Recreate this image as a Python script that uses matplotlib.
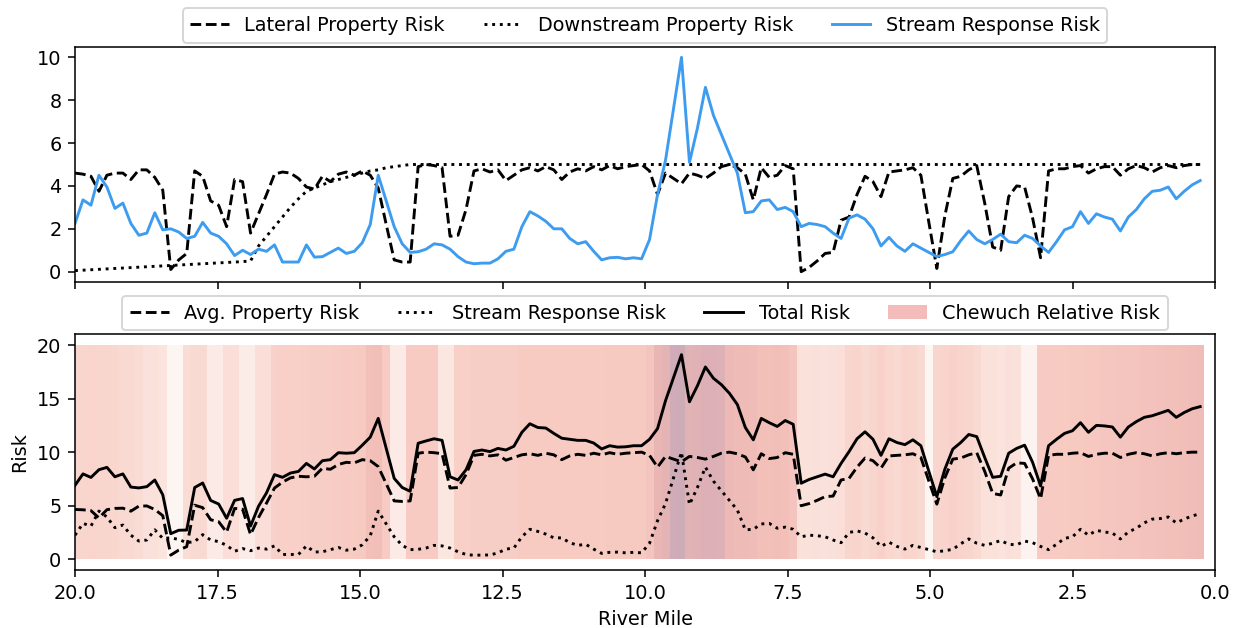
import matplotlib
matplotlib.use("Agg")
import matplotlib.pyplot as plt
import numpy as np
from matplotlib.colors import LinearSegmentedColormap
from matplotlib.patches import Patch
from matplotlib.lines import Line2D

# ---------------- data ----------------
river_mile = [
    20.00, 19.86, 19.72, 19.58, 19.44, 19.30, 19.16, 19.02, 18.88, 18.74,
    18.60, 18.46, 18.32, 18.18, 18.04, 17.90, 17.76, 17.62, 17.48, 17.34,
    17.20, 17.06, 16.92, 16.78, 16.64, 16.50, 16.36, 16.22, 16.08, 15.94,
    15.80, 15.66, 15.52, 15.38, 15.24, 15.10, 14.96, 14.82, 14.68, 14.54,
    14.40, 14.26, 14.12, 13.98, 13.84, 13.70, 13.56, 13.42, 13.28, 13.14,
    13.00, 12.86, 12.72, 12.58, 12.44, 12.30, 12.16, 12.02, 11.88, 11.74,
    11.60, 11.46, 11.32, 11.18, 11.04, 10.90, 10.76, 10.62, 10.48, 10.34,
    10.20, 10.06, 9.92, 9.78, 9.64, 9.50, 9.36, 9.22, 9.08, 8.94,
    8.80, 8.66, 8.52, 8.38, 8.24, 8.10, 7.96, 7.82, 7.68, 7.54,
    7.40, 7.26, 7.12, 6.98, 6.84, 6.70, 6.56, 6.42, 6.28, 6.14,
    6.00, 5.86, 5.72, 5.58, 5.44, 5.30, 5.16, 5.02, 4.88, 4.74,
    4.60, 4.46, 4.32, 4.18, 4.04, 3.90, 3.76, 3.62, 3.48, 3.34,
    3.20, 3.06, 2.92, 2.78, 2.64, 2.50, 2.36, 2.22, 2.08, 1.94,
    1.80, 1.66, 1.52, 1.38, 1.24, 1.10, 0.96, 0.82, 0.68, 0.54,
    0.40, 0.26,
]

lateral_property_risk = [
    4.6, 4.55, 4.45, 3.75, 4.5, 4.6, 4.6, 4.3, 4.75, 4.75,
    4.4, 3.8, 0.1, 0.55, 0.85, 4.7, 4.45, 3.3, 3.1, 2.1,
    4.3, 4.2, 1.8, 2.7, 3.6, 4.55, 4.65, 4.6, 4.35, 3.95,
    3.85, 4.45, 4.2, 4.55, 4.65, 4.5, 4.7, 4.5, 3.9, 2.2,
    0.55, 0.45, 0.45, 4.9, 5.0, 4.95, 4.85, 1.65, 1.7, 2.9,
    4.7, 4.8, 4.65, 4.75, 4.25, 4.5, 4.75, 4.85, 4.7, 4.9,
    4.75, 4.3, 4.65, 4.8, 4.7, 4.9, 4.75, 4.95, 4.8, 4.9,
    4.95, 5.0, 4.7, 3.6, 4.6, 4.35, 4.1, 4.6, 4.5, 4.35,
    4.6, 4.9, 5.0, 4.85, 4.55, 3.35, 4.85, 4.4, 4.5, 4.95,
    4.8, 0.0, 0.2, 0.5, 0.85, 0.9, 2.4, 2.55, 3.6, 4.45,
    4.2, 3.5, 4.65, 4.7, 4.75, 4.85, 4.5, 2.3, 0.15, 2.6,
    4.35, 4.45, 4.75, 4.95, 3.2, 1.15, 1.0, 3.5, 4.0, 3.95,
    2.5, 0.65, 4.7, 4.8, 4.8, 4.9, 4.95, 4.6, 4.8, 4.9,
    4.9, 4.5, 4.8, 4.95, 4.85, 4.65, 4.85, 4.95, 4.85, 4.95,
    5.0, 5.0,
]

downstream_property_risk = [
    0.05, 0.07, 0.09, 0.11, 0.13, 0.15, 0.17, 0.19, 0.21, 0.23,
    0.25, 0.27, 0.29, 0.31, 0.33, 0.35, 0.37, 0.39, 0.41, 0.43,
    0.45, 0.47, 0.5, 1.2, 1.65, 2.1, 2.55, 3.0, 3.4, 3.75,
    3.9, 4.05, 4.2, 4.3, 4.4, 4.5, 4.6, 4.7, 4.75, 4.85,
    4.9, 4.95, 5.0, 5.0, 5.0, 5.0, 5.0, 5.0, 5.0, 5.0,
    5.0, 5.0, 5.0, 5.0, 5.0, 5.0, 5.0, 5.0, 5.0, 5.0,
    5.0, 5.0, 5.0, 5.0, 5.0, 5.0, 5.0, 5.0, 5.0, 5.0,
    5.0, 5.0, 5.0, 5.0, 5.0, 5.0, 5.0, 5.0, 5.0, 5.0,
    5.0, 5.0, 5.0, 5.0, 5.0, 5.0, 5.0, 5.0, 5.0, 5.0,
    5.0, 5.0, 5.0, 5.0, 5.0, 5.0, 5.0, 5.0, 5.0, 5.0,
    5.0, 5.0, 5.0, 5.0, 5.0, 5.0, 5.0, 5.0, 5.0, 5.0,
    5.0, 5.0, 5.0, 5.0, 5.0, 5.0, 5.0, 5.0, 5.0, 5.0,
    5.0, 5.0, 5.0, 5.0, 5.0, 5.0, 5.0, 5.0, 5.0, 5.0,
    5.0, 5.0, 5.0, 5.0, 5.0, 5.0, 5.0, 5.0, 5.0, 5.0,
    5.0, 5.0,
]

stream_response_risk = [
    2.25, 3.35, 3.1, 4.5, 3.95, 2.95, 3.2, 2.25, 1.7, 1.8,
    2.75, 1.95, 2.0, 1.85, 1.55, 1.65, 2.3, 1.8, 1.65, 1.3,
    0.75, 1.0, 0.8, 1.05, 0.95, 1.25, 0.45, 0.45, 0.45, 1.25,
    0.68, 0.7, 0.9, 1.1, 0.85, 0.95, 1.35, 2.2, 4.5, 3.3,
    2.1, 1.3, 0.9, 0.93, 1.05, 1.3, 1.25, 1.05, 0.7, 0.45,
    0.37, 0.4, 0.4, 0.6, 0.95, 1.05, 2.1, 2.8, 2.6, 2.35,
    2.0, 2.0, 1.55, 1.3, 1.4, 0.95, 0.55, 0.65, 0.67, 0.6,
    0.65, 0.6, 1.5, 3.6, 5.2, 7.6, 10.0, 5.1, 6.7, 8.6,
    7.3, 6.4, 5.5, 4.6, 2.75, 2.8, 3.3, 3.35, 2.9, 3.0,
    2.8, 2.1, 2.25, 2.2, 2.1, 1.8, 1.55, 2.5, 2.65, 2.45,
    2.0, 1.2, 1.6, 1.2, 0.95, 1.3, 1.1, 0.9, 0.7, 0.8,
    0.93, 1.45, 1.9, 1.5, 1.3, 1.5, 1.75, 1.4, 1.35, 1.7,
    1.55, 1.2, 0.9, 1.4, 1.95, 2.1, 2.8, 2.25, 2.7, 2.55,
    2.45, 1.9, 2.55, 2.9, 3.4, 3.75, 3.8, 3.95, 3.4, 3.75,
    4.05, 4.25,
]

chewuch_relative_risk = [
    0.35, 0.35, 0.36, 0.35, 0.34, 0.33, 0.30, 0.30, 0.28, 0.22,
    0.20, 0.18, 0.03, 0.03, 0.28, 0.30, 0.30, 0.12, 0.12, 0.25,
    0.25, 0.10, 0.10, 0.25, 0.25, 0.38, 0.40, 0.40, 0.40, 0.41,
    0.42, 0.42, 0.43, 0.44, 0.45, 0.46, 0.47, 0.55, 0.56, 0.45,
    0.12, 0.12, 0.45, 0.46, 0.46, 0.45, 0.15, 0.15, 0.40, 0.40,
    0.42, 0.42, 0.42, 0.42, 0.42, 0.42, 0.46, 0.46, 0.46, 0.46,
    0.46, 0.46, 0.46, 0.46, 0.46, 0.46, 0.46, 0.47, 0.47, 0.47,
    0.47, 0.47, 0.50, 0.65, 0.70, 0.88, 0.90, 0.72, 0.74, 0.78,
    0.78, 0.76, 0.62, 0.60, 0.60, 0.58, 0.55, 0.55, 0.56, 0.55,
    0.50, 0.20, 0.20, 0.22, 0.20, 0.22, 0.25, 0.35, 0.36, 0.30,
    0.35, 0.38, 0.33, 0.30, 0.36, 0.35, 0.30, 0.03, 0.35, 0.36,
    0.38, 0.36, 0.35, 0.30, 0.20, 0.20, 0.18, 0.22, 0.20, 0.05,
    0.05, 0.45, 0.45, 0.46, 0.46, 0.47, 0.47, 0.48, 0.48, 0.49,
    0.49, 0.50, 0.50, 0.51, 0.52, 0.52, 0.53, 0.54, 0.55, 0.56,
    0.57, 0.58,
]

x_ticks = [20.0, 17.5, 15.0, 12.5, 10.0, 7.5, 5.0, 2.5, 0.0]
top_y_ticks = [0, 2, 4, 6, 8, 10]
bottom_y_ticks = [0, 5, 10, 15, 20]

# derived series shown in the lower panel
lat = np.array(lateral_property_risk)
down = np.array(downstream_property_risk)
stream = np.array(stream_response_risk)
avg_property = lat + down
total_risk = avg_property + stream
miles = np.array(river_mile)

# ---------------- figure ----------------
W, H, DPI = 1237, 628, 139
fig = plt.figure(figsize=(W / DPI, H / DPI), dpi=DPI)

left, right = 75, 1215
ax1 = fig.add_axes([left / W, 1 - 282.4 / H, (right - left) / W, (282.4 - 46.6) / H])
ax2 = fig.add_axes([left / W, 1 - 570 / H, (right - left) / W, (570 - 334.3) / H], sharex=ax1)

blue = '#3d9cf0'

# top panel
ax1.plot(miles, lat, color='black', linestyle='--', label='Lateral Property Risk')
ax1.plot(miles, down, color='black', linestyle=':', label='Downstream Property Risk')
ax1.plot(miles, stream, color=blue, linestyle='-', label='Stream Response Risk')
ax1.set_xlim(20, 0)
ax1.set_ylim(-0.5, 10.5)
ax1.set_yticks(top_y_ticks)
ax1.set_xticks(x_ticks)
ax1.tick_params(labelbottom=False)
ax1.legend(loc='lower center', bbox_to_anchor=(0.5, 1.0), ncol=3, borderaxespad=0.2)

# bottom panel: relative-risk bands
cmap = LinearSegmentedColormap.from_list('chewuch', [
    (0.0, '#fdf8f6'), (0.15, '#fbe6e0'), (0.30, '#f9dad2'), (0.45, '#f7cbc3'),
    (0.55, '#f2bfb9'), (0.65, '#eab6b4'), (0.78, '#dcb0b6'), (0.90, '#cdabb7'),
    (1.0, '#c3a9b9')])
half = 0.07
edges = np.concatenate([miles + half, [miles[-1] - half]])
ax2.pcolormesh(edges, [0, 20], np.array(chewuch_relative_risk)[None, :],
               cmap=cmap, vmin=0, vmax=1, shading='flat', zorder=0,
               edgecolors='none', antialiased=False)

ax2.plot(miles, avg_property, color='black', linestyle='--', zorder=3)
ax2.plot(miles, stream, color='black', linestyle=':', zorder=3)
ax2.plot(miles, total_risk, color='black', linestyle='-', zorder=3)
ax2.set_xlim(20, 0)
ax2.set_ylim(-1, 21)
ax2.set_yticks(bottom_y_ticks)
ax2.set_xticks(x_ticks)
ax2.set_xticklabels([f"{t:.1f}" for t in x_ticks])
ax2.set_xlabel('River Mile')
ax2.set_ylabel('Risk')

handles = [
    Line2D([], [], color='black', linestyle='--'),
    Line2D([], [], color='black', linestyle=':'),
    Line2D([], [], color='black', linestyle='-'),
    Patch(facecolor='#f3bcba', edgecolor='none'),
]
labels = ['Avg. Property Risk', 'Stream Response Risk', 'Total Risk', 'Chewuch Relative Risk']
ax2.legend(handles, labels, loc='lower center', bbox_to_anchor=(0.5, 1.0), ncol=4,
           borderaxespad=0.2)

fig.savefig('out.png', dpi=DPI)
